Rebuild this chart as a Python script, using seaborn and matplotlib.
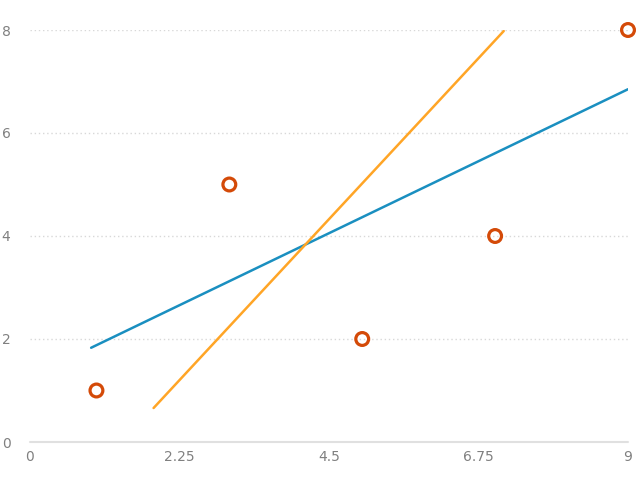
import matplotlib
matplotlib.use("Agg")
import matplotlib.pyplot as plt
import seaborn as sns
import pandas as pd

# data
pts_x = [1, 3, 5, 7, 9]
pts_y = [1, 5, 2, 4, 8]
blue_x = [0.92, 9.0]
blue_y = [1.83, 6.85]
orange_x = [1.86, 7.13]
orange_y = [0.66, 7.98]
x_ticks = [0, 2.25, 4.5, 6.75, 9]
x_labels = ["0", "2.25", "4.5", "6.75", "9"]
y_ticks = [0, 2, 4, 6, 8]

sns.set_style("white")
plt.rcParams['font.family'] = ['DejaVu Sans']

fig = plt.figure(figsize=(6.4, 4.8), dpi=100)
ax = fig.add_axes([30/640, 1 - 442/480, (628-30)/640, (442-30)/480])

df_pts = pd.DataFrame({"x": pts_x, "y": pts_y})
df_b = pd.DataFrame({"x": blue_x, "y": blue_y})
df_o = pd.DataFrame({"x": orange_x, "y": orange_y})

for yv in y_ticks[1:]:
    ax.axhline(yv, color="#d8d8d8", lw=1, ls=(0, (1, 2)), zorder=0)
ax.axhline(0, color="#e0e0e0", lw=1.5, zorder=0, clip_on=False)

sns.lineplot(data=df_b, x="x", y="y", ax=ax, color="#1a8fc0", lw=1.8, zorder=3)
sns.lineplot(data=df_o, x="x", y="y", ax=ax, color="#ffa526", lw=1.8, zorder=3)
sns.scatterplot(data=df_pts, x="x", y="y", ax=ax, s=85, facecolor="none",
                edgecolor="#d44a08", linewidth=2.3, zorder=4, clip_on=False)

ax.set_xlim(0, 9)
ax.set_ylim(0, 8)
ax.set_xticks(x_ticks)
ax.set_xticklabels(x_labels)
ax.set_yticks(y_ticks)
ax.tick_params(axis="both", length=0, labelsize=10, labelcolor="#808080")
ax.tick_params(axis="x", pad=6)
ax.tick_params(axis="y", pad=14)
for s in ax.spines.values():
    s.set_visible(False)
ax.set_xlabel("")
ax.set_ylabel("")

fig.savefig("out.png", dpi=100)
